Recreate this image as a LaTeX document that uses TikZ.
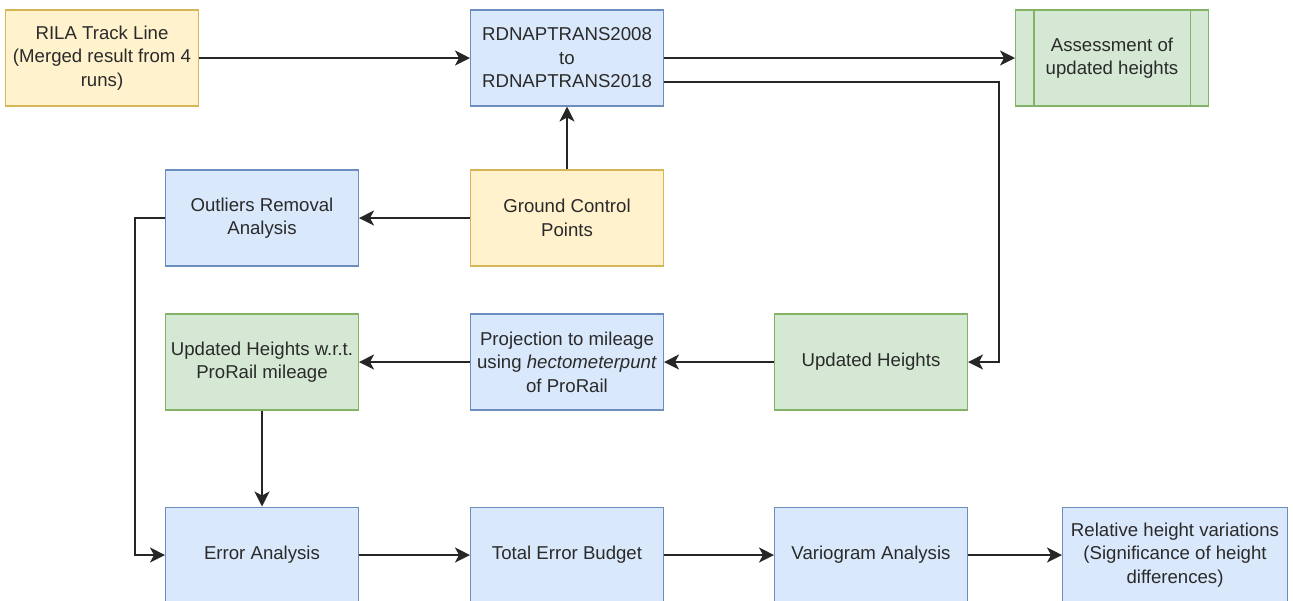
\documentclass[tikz,border=0pt]{standalone}
\usepackage{fontspec}
\setmainfont{Liberation Sans}
\usetikzlibrary{arrows.meta}
\definecolor{yelfill}{HTML}{FFF2CC}
\definecolor{yeldraw}{HTML}{D6B656}
\definecolor{bluefill}{HTML}{DAE8FC}
\definecolor{bluedraw}{HTML}{6C8EBF}
\definecolor{grnfill}{HTML}{D5E8D4}
\definecolor{grndraw}{HTML}{82B366}
\definecolor{txt}{HTML}{2A2A2A}
\begin{document}
\begin{tikzpicture}[x=0.02cm,y=-0.02cm,
    box/.style={draw, line width=0.6pt, minimum width=3.86cm, minimum height=1.92cm,
      inner sep=0pt, align=center, text=txt, font=\fontsize{10.6}{13.4}\selectfont},
    yelbox/.style={box, fill=yelfill, draw=yeldraw},
    bluebox/.style={box, fill=bluefill, draw=bluedraw},
    grnbox/.style={box, fill=grnfill, draw=grndraw},
    arr/.style={draw=black!85, line width=0.9pt, -{Stealth[length=0.3cm,width=0.3cm,inset=0.08cm]}}]
    \useasboundingbox (0,0) rectangle (1293,600);
    \clip (0,0) rectangle (1293,600);
    % top row
    \node[yelbox] (rila) at (102,58) {RILA Track Line\\(Merged result from 4\\runs)};
    \node[bluebox] (rdnap) at (567,58) {RDNAPTRANS2008\\to\\RDNAPTRANS2018};
    \node[grnbox] (assess) at (1112,58) {Assessment of\\updated heights};
    \draw[grndraw, line width=0.6pt] ([xshift=0.38cm]assess.north west) -- ([xshift=0.38cm]assess.south west);
    \draw[grndraw, line width=0.6pt] ([xshift=-0.38cm]assess.north east) -- ([xshift=-0.38cm]assess.south east);
    % second row
    \node[bluebox] (outl) at (262,218) {Outliers Removal\\Analysis};
    \node[yelbox] (gcp) at (567,218) {Ground Control\\Points};
    % third row
    \node[grnbox] (updrail) at (262,362) {Updated Heights w.r.t.\\ProRail mileage};
    \node[bluebox] (proj) at (567,362) {Projection to mileage\\using \textit{hectometerpunt}\\of ProRail};
    \node[grnbox] (upd) at (871,362) {Updated Heights};
    % bottom row
    \node[bluebox] (err) at (262,555) {Error Analysis};
    \node[bluebox] (budget) at (567,555) {Total Error Budget};
    \node[bluebox] (vario) at (871,555) {Variogram Analysis};
    \node[bluebox, minimum width=4.5cm] (relvar) at (1175,555) {Relative height variations\\(Significance of height\\differences)};
    % connectors
    \coordinate (rbend) at (999,82);
    \coordinate (lbend) at (135,218);
    \draw[arr] (rila) -- (rdnap);
    \draw[arr] (rdnap) -- (assess);
    \draw[arr] (rdnap.east |- rbend) -- (rbend) |- (upd.east);
    \draw[arr] (gcp) -- (rdnap);
    \draw[arr] (gcp) -- (outl);
    \draw[arr] (upd) -- (proj);
    \draw[arr] (proj) -- (updrail);
    \draw[arr] (updrail) -- (err);
    \draw[arr] (outl.west) -- (lbend) |- (err.west);
    \draw[arr] (err) -- (budget);
    \draw[arr] (budget) -- (vario);
    \draw[arr] (vario) -- (relvar);
\end{tikzpicture}
\end{document}
